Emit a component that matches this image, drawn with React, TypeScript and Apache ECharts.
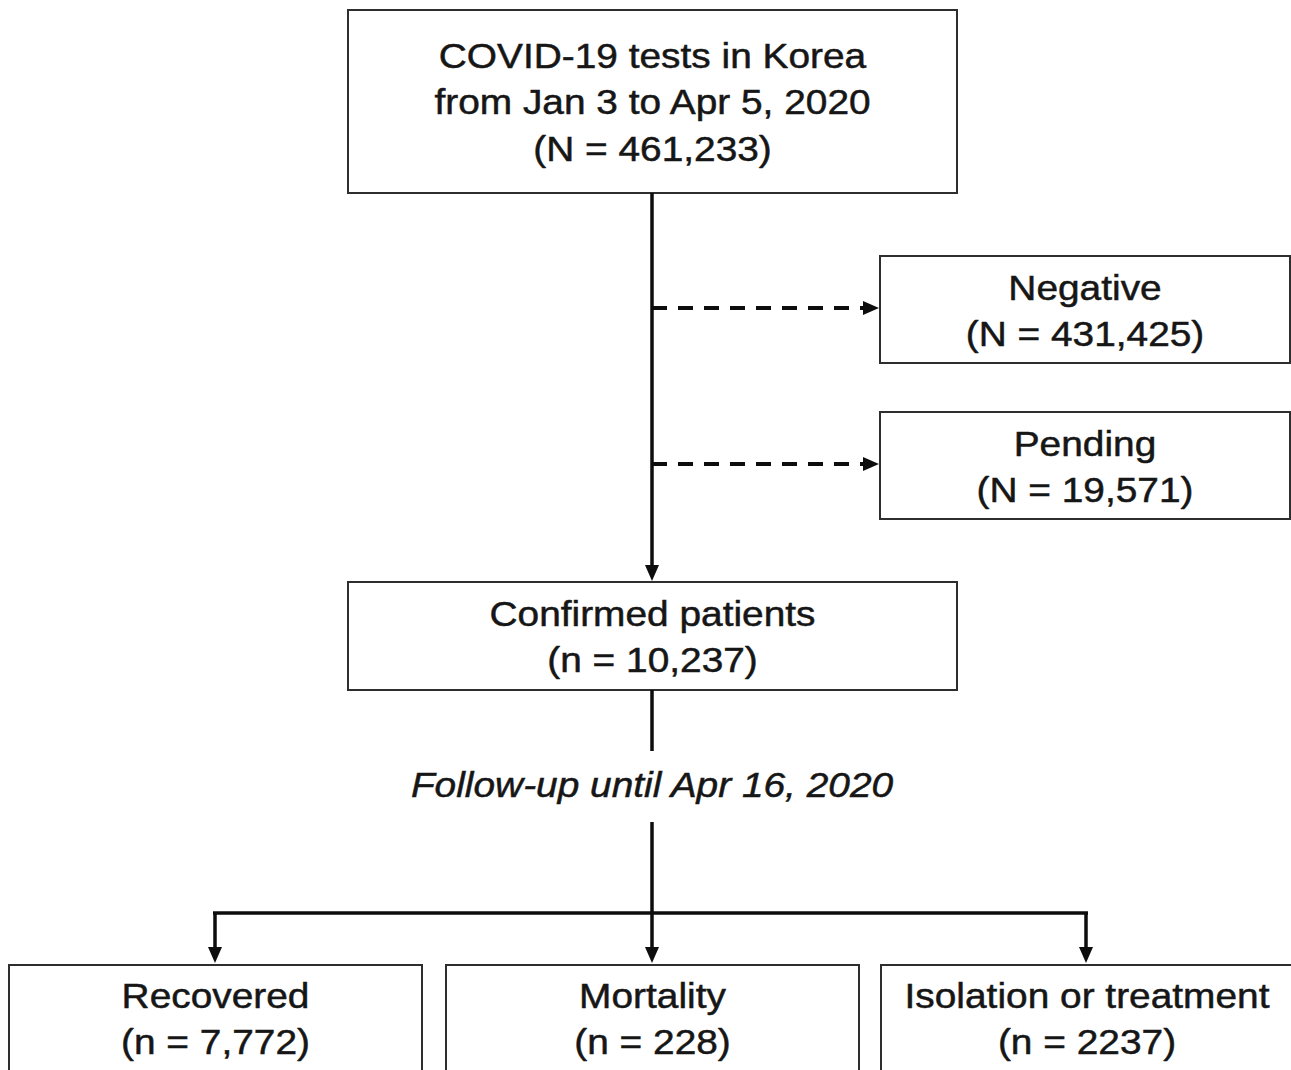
import React, { useEffect, useRef } from "react";
import * as echarts from "echarts";

// ---- data ----
const boxTitles: string[][] = [
  ["COVID-19 tests in Korea", "from Jan 3 to Apr 5, 2020"],
  ["Negative"],
  ["Pending"],
  ["Confirmed patients"],
  ["Recovered"],
  ["Mortality"],
  ["Isolation or treatment"],
];
const boxCounts: string[] = [
  "(N = 461,233)",
  "(N = 431,425)",
  "(N = 19,571)",
  "(n = 10,237)",
  "(n = 7,772)",
  "(n = 228)",
  "(n = 2237)",
];
const followUpLabel = "Follow-up until Apr 16, 2020";

// ---- layout (positions only) ----
// [x, y, w, h, firstLineCenterY]
const boxLayout: number[][] = [
  [348, 10, 609, 183, 56],
  [880, 256, 410, 107, 288],
  [880, 412, 410, 107, 444],
  [348, 582, 609, 108, 614],
  [9, 965, 413, 130, 996],
  [446, 965, 413, 130, 996],
  [881, 965, 412, 130, 996],
];
const LINE_GAP = 46.5;
const FONT = "'Liberation Sans', Arial, Helvetica, sans-serif";
const FS = 35;
const SX = 1.11;
const TEXT_COLOR = "#161616";
const LINE_COLOR = "#0d0d0d";

function textEl(str: string, cx: number, cy: number, italic = false) {
  return {
    type: "text",
    x: cx,
    y: cy,
    scaleX: SX,
    style: {
      text: str,
      x: 0,
      y: 0,
      fill: TEXT_COLOR,
      stroke: TEXT_COLOR,
      lineWidth: 0.5,
      fontSize: FS,
      fontFamily: FONT,
      fontStyle: italic ? "italic" : "normal",
      align: "center",
      verticalAlign: "middle",
      textAlign: "center",
      textVerticalAlign: "middle",
    },
  };
}

function line(x1: number, y1: number, x2: number, y2: number, dash?: number[], w = 3.5) {
  return {
    type: "line",
    shape: { x1, y1, x2, y2 },
    style: { stroke: LINE_COLOR, lineWidth: w, lineDash: dash || null },
  };
}

function arrowDown(x: number, tipY: number) {
  return {
    type: "polygon",
    shape: { points: [[x - 7, tipY - 16], [x + 7, tipY - 16], [x, tipY]] },
    style: { fill: LINE_COLOR },
  };
}
function arrowRight(tipX: number, y: number) {
  return {
    type: "polygon",
    shape: { points: [[tipX - 16, y - 7], [tipX - 16, y + 7], [tipX, y]] },
    style: { fill: LINE_COLOR },
  };
}

function buildGraphics() {
  const els: any[] = [];
  boxLayout.forEach((b, i) => {
    const [x, y, w, h, ly] = b;
    els.push({
      type: "rect",
      shape: { x, y, width: w, height: h },
      style: { fill: "#ffffff", stroke: "#2e2e2e", lineWidth: 2 },
    });
    const cx = x + w / 2;
    const lines = [...boxTitles[i], boxCounts[i]];
    lines.forEach((t, k) => els.push(textEl(t, cx, ly + k * LINE_GAP)));
  });
  const mx = 652;
  // main trunk
  els.push(line(mx, 193, mx, 568));
  els.push(arrowDown(mx, 581));
  // dashed branches
  [308, 464].forEach((yy) => {
    els.push(line(mx, yy, 866, yy, [15, 11], 4));
    els.push(arrowRight(879, yy));
  });
  // below confirmed
  els.push(line(mx, 690, mx, 751));
  els.push(textEl(followUpLabel, mx, 785, true));
  els.push(line(mx, 822, mx, 913));
  els.push(line(213, 913, 1088, 913));
  [215, mx, 1086].forEach((xx) => {
    els.push(line(xx, 913, xx, 950));
    els.push(arrowDown(xx, 963));
  });
  return els;
}

export default function App() {
  const ref = useRef<HTMLDivElement>(null);
  useEffect(() => {
    if (!ref.current) return;
    const chart = echarts.init(ref.current, null, { renderer: "svg" });
    chart.setOption({
      animation: false,
      backgroundColor: "#ffffff",
      graphic: buildGraphics(),
    });
    return () => chart.dispose();
  }, []);
  return (
    <div
      ref={ref}
      style={{ position: "fixed", left: 0, top: 0, width: 1291, height: 1070, background: "#fff" }}
    />
  );
}
